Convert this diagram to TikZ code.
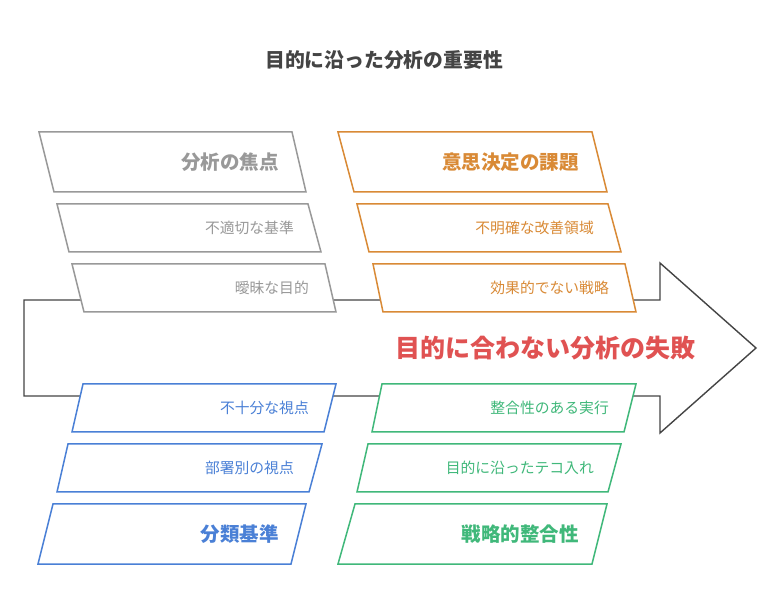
\documentclass[tikz,border=0pt]{standalone}
\usepackage{fontspec}
\setmainfont{Noto Sans CJK JP}
\usetikzlibrary{positioning}

\definecolor{titlegray}{HTML}{444444}
\definecolor{arrowgray}{HTML}{454545}
\definecolor{focusgray}{HTML}{999999}
\definecolor{issueorange}{HTML}{D98A36}
\definecolor{criteriablue}{HTML}{4A80D6}
\definecolor{alignmentgreen}{HTML}{40B87A}
\definecolor{failurered}{HTML}{E05252}

\tikzset{
    box/.style={line width=1.5pt,fill=white,line join=miter},
    headtext/.style={anchor=east,inner sep=0pt,font=\fontsize{19.5}{21}\selectfont\bfseries},
    itemtext/.style={anchor=east,inner sep=0pt,font=\fontsize{14.8}{16}\selectfont},
}

\begin{document}
\begin{tikzpicture}[x=1pt,y=-1pt]
    \useasboundingbox[fill=white] (0,0) rectangle (780,612);

    \node (title) at (384,60) [inner sep=0pt,text=titlegray,font=\fontsize{19.8}{22}\selectfont\bfseries] {目的に沿った分析の重要性};

    % big arrow
    \draw[line width=1.4pt,color=arrowgray,fill=white,line join=miter]
        (24,300) -- (660,300) -- (660,263) -- (756,348) -- (660,433) -- (660,396) -- (24,396) -- cycle;
    \node (failure) at (545,348) [inner sep=0pt,text=failurered,font=\fontsize{25}{27}\selectfont\bfseries] {目的に合わない分析の失敗};

    % gray column
    \draw[box,draw=focusgray]  (39,132) -- (292,132) -- (306,192) -- (54,192) -- cycle;
    \draw[box,draw=focusgray]  (57,204) -- (308,204) -- (321,252) -- (69,252) -- cycle;
    \draw[box,draw=focusgray]  (72,264) -- (325,264) -- (336,312) -- (84,312) -- cycle;
    \node (focus)     at (279,162) [headtext,text=focusgray] {分析の焦点};
    \node (improper)  at (294,228) [itemtext,text=focusgray] {不適切な基準};
    \node (vague)     at (309,288) [itemtext,text=focusgray] {曖昧な目的};

    % orange column
    \draw[box,draw=issueorange]  (338,132) -- (592,132) -- (607,192) -- (354,192) -- cycle;
    \draw[box,draw=issueorange]  (357,204) -- (608,204) -- (621,252) -- (369,252) -- cycle;
    \draw[box,draw=issueorange]  (373,264) -- (625,264) -- (636,312) -- (383,312) -- cycle;
    \node (decision)  at (579,162) [headtext,text=issueorange] {意思決定の課題};
    \node (unclear)   at (594,228) [itemtext,text=issueorange] {不明確な改善領域};
    \node (weak)      at (609,288) [itemtext,text=issueorange] {効果的でない戦略};

    % blue column
    \draw[box,draw=criteriablue]  (83,384) -- (336,384) -- (324,432) -- (72,432) -- cycle;
    \draw[box,draw=criteriablue]  (68,444) -- (322,444) -- (309,492) -- (57,492) -- cycle;
    \draw[box,draw=criteriablue]  (53,504) -- (306,504) -- (291,564) -- (38,564) -- cycle;
    \node (shallow)   at (309,408) [itemtext,text=criteriablue] {不十分な視点};
    \node (division)  at (294,468) [itemtext,text=criteriablue] {部署別の視点};
    \node (criteria)  at (279,534) [headtext,text=criteriablue] {分類基準};

    % green column
    \draw[box,draw=alignmentgreen]  (382,384) -- (636,384) -- (624,432) -- (372,432) -- cycle;
    \draw[box,draw=alignmentgreen]  (368,444) -- (621,444) -- (608,492) -- (357,492) -- cycle;
    \draw[box,draw=alignmentgreen]  (355,504) -- (607,504) -- (592,564) -- (338,564) -- cycle;
    \node (execution) at (609,408) [itemtext,text=alignmentgreen] {整合性のある実行};
    \node (fix)       at (594,468) [itemtext,text=alignmentgreen] {目的に沿ったテコ入れ};
    \node (strategy)  at (579,534) [headtext,text=alignmentgreen] {戦略的整合性};

\end{tikzpicture}
\end{document}
